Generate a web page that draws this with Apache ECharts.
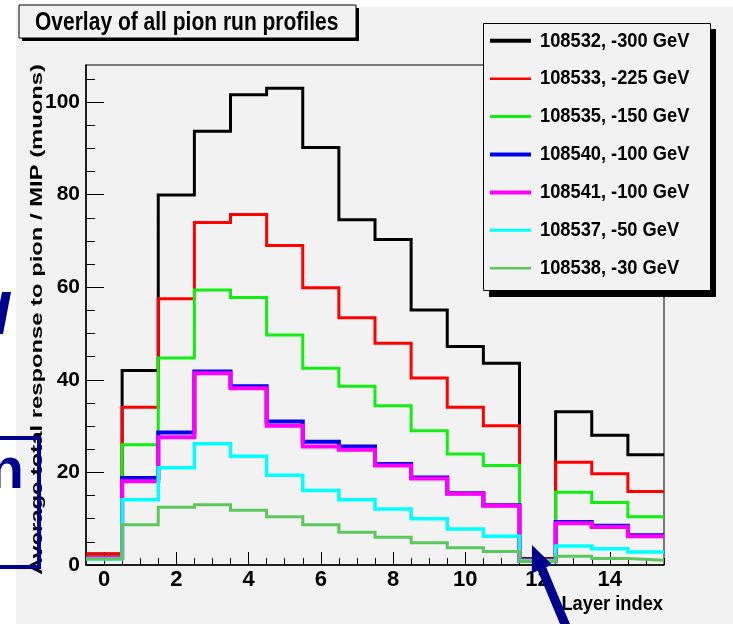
<!DOCTYPE html>
<html>
<head>
<meta charset="utf-8">
<script src="https://cdn.jsdelivr.net/npm/echarts@6/dist/echarts.min.js"></script>
<style>
  html, body { margin: 0; padding: 0; background: #ffffff; }
  #chart { width: 733px; height: 624px; }
</style>
</head>
<body>
<div id="chart"></div>
<script>
// Layer index (bin centres) of the calorimeter profile
const layers = [0, 1, 2, 3, 4, 5, 6, 7, 8, 9, 10, 11, 12, 13, 14, 15];

// Run labels, in legend order
const runNames = [
  '108532, -300 GeV',
  '108533, -225 GeV',
  '108535, -150 GeV',
  '108540, -100 GeV',
  '108541, -100 GeV',
  '108537, -50 GeV',
  '108538, -30 GeV'
];

// Average total response to pion / MIP (muons), one value per layer
const run108532 = [2.4, 42.0, 79.9, 93.7, 101.6, 103.0, 90.2, 74.6, 70.3, 55.1, 47.2, 43.6, 1.4, 33.1, 28.0, 23.8];
const run108533 = [2.4, 34.1, 57.5, 74.0, 75.7, 69.0, 59.9, 53.4, 47.9, 40.4, 34.1, 30.1, 1.3, 22.2, 19.7, 15.9];
const run108535 = [1.6, 26.0, 44.7, 59.4, 57.8, 49.7, 42.5, 38.6, 34.4, 29.0, 24.0, 21.5, 1.0, 15.7, 13.5, 10.4];
const run108540 = [1.5, 18.8, 28.6, 41.8, 38.6, 31.0, 26.6, 25.6, 21.8, 18.9, 15.5, 12.9, 0.9, 9.3, 8.5, 6.4];
const run108541 = [1.5, 18.1, 27.6, 41.4, 38.2, 30.1, 25.6, 24.9, 21.5, 18.7, 15.4, 12.8, 0.9, 9.0, 8.2, 6.2];
const run108537 = [1.3, 14.1, 21.0, 26.2, 23.5, 19.4, 16.1, 14.1, 12.1, 10.0, 7.8, 6.2, 0.9, 4.1, 3.5, 2.8];
const run108538 = [1.3, 8.7, 12.5, 13.0, 11.8, 10.4, 8.7, 7.1, 6.0, 4.8, 3.7, 2.9, 0.8, 1.9, 1.4, 1.0];

// Axis ticks
const xTickLabels = [0, 2, 4, 6, 8, 10, 12, 14];
const yTickLabels = [0, 20, 40, 60, 80, 100];

const runValues = [run108532, run108533, run108535, run108540, run108541, run108537, run108538];
const runColors = ['#000000', '#ff0000', '#11ee11', '#0000ee', '#ff00ff', '#00ffff', '#5cc85c'];
const runWidths = [3, 3, 3, 4, 4, 3.5, 3];
const legendWidths = [4, 2.5, 3, 4, 4, 3, 2.5];

const BIN_HALF = 0.5;
const X_MIN = -0.5, X_MAX = 15.5;
const Y_MAX = 108;

// secondary tick positions every half layer, every 5 units on y
const xMinorTicks = [];
for (let v = 0; v <= X_MAX; v += 0.5) xMinorTicks.push(v);
const yMinorTicks = [];
for (let v = 0; v < Y_MAX; v += 5) yMinorTicks.push(v);

// histogram outline: one point at each bin's lower edge, plus the last upper edge
function histogramPoints(values) {
  const pts = layers.map((l, i) => [l - BIN_HALF, values[i]]);
  pts.push([layers[layers.length - 1] + BIN_HALF, values[values.length - 1]]);
  return pts;
}

const FONT = '"Liberation Sans", Arial, sans-serif';
const NARROW = '"Liberation Sans Narrow", "Liberation Sans", Arial, sans-serif';
const BG = '#f2f2f2';
const NAVY = '#00008f';

const series = runNames.map((name, i) => ({
  type: 'line',
  name: name,
  step: 'end',
  data: histogramPoints(runValues[i]),
  xAxisIndex: 0,
  yAxisIndex: 0,
  showSymbol: false,
  symbol: 'none',
  animation: false,
  lineStyle: { color: runColors[i], width: runWidths[i], cap: 'butt', join: 'miter' },
  itemStyle: { color: runColors[i] },
  z: 2 + i
}));

function txt(o) {
  return {
    type: 'text',
    x: o.x, y: o.y,
    rotation: o.rotation || 0,
    scaleX: o.scaleX || 1,
    scaleY: o.scaleY || 1,
    z: o.z || 20,
    silent: true,
    style: {
      text: o.text,
      font: o.font,
      fill: o.fill || '#000',
      align: o.align || 'left',
      textAlign: o.align || 'left',
      verticalAlign: o.valign || 'middle',
      textVerticalAlign: o.valign || 'middle'
    }
  };
}

const graphics = [];
// page margins outside the canvas
graphics.push({ type: 'rect', z: 1, silent: true, shape: { x: 0, y: 0, width: 16, height: 624 }, style: { fill: '#ffffff' } });
graphics.push({ type: 'rect', z: 1, silent: true, shape: { x: 0, y: 0, width: 733, height: 7 }, style: { fill: '#ffffff' } });

// title pave with shadow
graphics.push({ type: 'rect', z: 10, silent: true, shape: { x: 22, y: 8, width: 337, height: 33 }, style: { fill: '#000' } });
graphics.push({ type: 'rect', z: 11, silent: true, shape: { x: 19, y: 5, width: 337, height: 33 }, style: { fill: BG, stroke: '#000', lineWidth: 1 } });
graphics.push(txt({ x: 35, y: 23, text: 'Overlay of all pion run profiles', font: 'bold 25px ' + FONT, scaleX: 0.84, z: 12 }));

// legend box with shadow
graphics.push({ type: 'rect', z: 10, silent: true, shape: { x: 489, y: 29, width: 227, height: 268 }, style: { fill: '#000' } });
graphics.push({ type: 'rect', z: 11, silent: true, shape: { x: 483.5, y: 23.5, width: 227, height: 267 }, style: { fill: BG, stroke: '#000', lineWidth: 1 } });
runNames.forEach((name, i) => {
  const y = 40.8 + i * 37.9;
  graphics.push({ type: 'line', z: 12, silent: true, shape: { x1: 490, y1: y, x2: 531, y2: y }, style: { stroke: runColors[i], lineWidth: legendWidths[i] } });
  graphics.push(txt({ x: 540, y: y, text: name, font: 'bold 21px ' + FONT, scaleX: 0.87, z: 12 }));
});

// axis titles
graphics.push(txt({ x: 37, y: 64, rotation: Math.PI / 2, scaleY: 0.7, align: 'right', text: 'Average total response to pion / MIP (muons)', font: 'bold 23.8px ' + FONT, z: 12 }));
graphics.push(txt({ x: 663, y: 604, align: 'right', text: 'Layer index', font: 'bold 21px ' + FONT, scaleX: 0.87, z: 12 }));

// slide overlay: stroke fragment, boxed letter and arrow
graphics.push({ type: 'polygon', z: 30, silent: true, shape: { points: [[2, 292], [11, 292], [3, 334], [0, 334], [0, 302]] }, style: { fill: NAVY } });
graphics.push(txt({ x: 24, y: 472, align: 'right', text: 'n', font: 'bold 58px ' + FONT, fill: NAVY, z: 30 }));
graphics.push({ type: 'polyline', z: 30, silent: true, shape: { points: [[-5, 438], [39, 438], [39, 567], [-5, 567]] }, style: { stroke: NAVY, lineWidth: 4, fill: null } });
graphics.push({ type: 'polygon', z: 30, silent: true, shape: { points: [
  [532, 545], [552.2, 564.8], [546.2, 567.2], [572.8, 630.9],
  [564.4, 634.5], [537.8, 570.8], [531.8, 573.2]
] }, style: { fill: NAVY } });

const option = {
  backgroundColor: BG,
  animation: false,
  grid: {
    left: 86, right: 69, top: 65, bottom: 59,
    show: true, backgroundColor: BG, borderColor: '#000', borderWidth: 1
  },
  xAxis: [
    {
      type: 'value', min: X_MIN, max: X_MAX, interval: 0.5,
      axisLine: { show: true, onZero: false, lineStyle: { color: '#000', width: 1.5 } },
      axisTick: { show: true, inside: true, length: 13, customValues: xTickLabels, lineStyle: { color: '#000', width: 1 } },
      axisLabel: { customValues: xTickLabels, margin: 4, color: '#000', fontSize: 22, fontWeight: 'bold', fontFamily: NARROW },
      splitLine: { show: false }
    },
    {
      type: 'value', min: X_MIN, max: X_MAX, interval: 0.5, position: 'bottom',
      axisLine: { show: false, onZero: false },
      axisTick: { show: true, inside: true, length: 7, customValues: xMinorTicks, lineStyle: { color: '#000', width: 1 } },
      axisLabel: { show: false },
      splitLine: { show: false }
    }
  ],
  yAxis: [
    {
      type: 'value', min: 0, max: Y_MAX, interval: 20,
      axisLine: { show: true, onZero: false, lineStyle: { color: '#000', width: 1.5 } },
      axisTick: { show: true, inside: true, length: 18, customValues: yTickLabels, lineStyle: { color: '#000', width: 1 } },
      axisLabel: { customValues: yTickLabels, margin: 6, color: '#000', fontSize: 21, fontWeight: 'bold', fontFamily: NARROW },
      splitLine: { show: false }
    },
    {
      type: 'value', min: 0, max: Y_MAX, interval: 5, position: 'left',
      axisLine: { show: false, onZero: false },
      axisTick: { show: true, inside: true, length: 9, customValues: yMinorTicks, lineStyle: { color: '#000', width: 1 } },
      axisLabel: { show: false },
      splitLine: { show: false }
    }
  ],
  graphic: { elements: graphics },
  series: series
};

const chart = echarts.init(document.getElementById('chart'), null, { renderer: 'canvas' });
chart.setOption(option);
</script>
</body>
</html>
